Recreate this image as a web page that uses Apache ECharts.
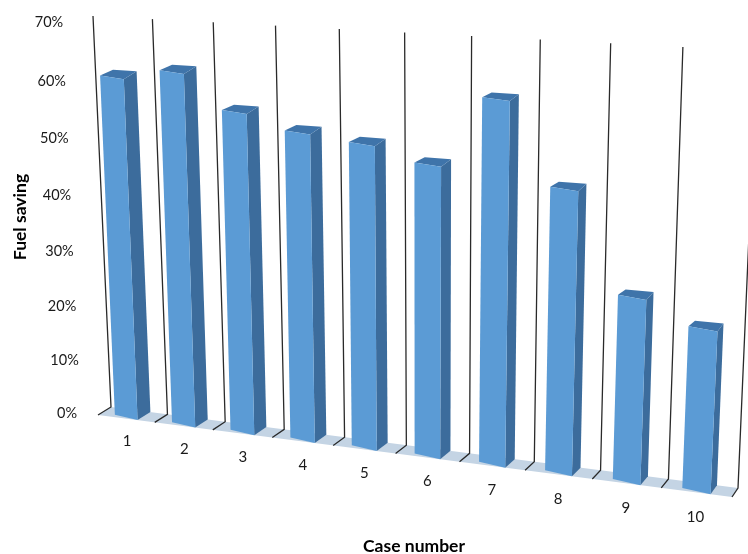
<!DOCTYPE html>
<html>
<head>
<meta charset="utf-8">
<title>Fuel saving</title>
<style>
  html, body { margin: 0; background: #fff; }
  #chart { width: 748px; height: 554px; }
</style>
<script src="https://cdn.jsdelivr.net/npm/echarts@6/dist/echarts.min.js"></script>
</head>
<body>
<div id="chart"></div>
<script>
// data
const caseNumbers = ['1', '2', '3', '4', '5', '6', '7', '8', '9', '10'];
const fuelSaving = [0.61, 0.625, 0.564, 0.537, 0.525, 0.499, 0.612, 0.476, 0.31, 0.27];
const valueTicks = [0, 0.1, 0.2, 0.3, 0.4, 0.5, 0.6, 0.7];

const VALUE_MAX = 0.7;
const FONT = 'Lato, "Open Sans", sans-serif';

// corners of the two tilted planes: bottom-left, bottom-right, top-right, top-left
const frontPlane = makeProjection([[98, 415], [732, 497], [752, 57], [80, 24]]);
const backPlane = makeProjection([[111, 407], [738, 488], [757, 51], [93, 16]]);

// unit square -> quad
function makeProjection(q) {
    const dx1 = q[1][0] - q[2][0], dx2 = q[3][0] - q[2][0], sx = q[0][0] - q[1][0] + q[2][0] - q[3][0];
    const dy1 = q[1][1] - q[2][1], dy2 = q[3][1] - q[2][1], sy = q[0][1] - q[1][1] + q[2][1] - q[3][1];
    const den = dx1 * dy2 - dx2 * dy1;
    const g = (sx * dy2 - dx2 * sy) / den;
    const h = (dx1 * sy - sx * dy1) / den;
    const a = q[1][0] - q[0][0] + g * q[1][0], b = q[3][0] - q[0][0] + h * q[3][0];
    const d = q[1][1] - q[0][1] + g * q[1][1], e = q[3][1] - q[0][1] + h * q[3][1];
    return function (s, t) {
        const w = g * s + h * t + 1;
        return [(a * s + b * t + q[0][0]) / w, (d * s + e * t + q[0][1]) / w];
    };
}

// axis position -> screen, through the hidden grid
function place(plane, params, api, idx, offset, value) {
    const rect = params.coordSys;
    const band = api.size([1, 0])[0];
    const p = api.coord([idx, value]);
    const s = (p[0] + offset * band - rect.x) / rect.width;
    const t = (rect.y + rect.height - p[1]) / rect.height;
    return plane(s, t);
}

function poly(points, fill) {
    return { type: 'polygon', shape: { points: points }, style: { fill: fill } };
}

function renderFloor(params, api) {
    const last = caseNumbers.length - 1;
    return poly([
        place(frontPlane, params, api, 0, -0.5, 0),
        place(frontPlane, params, api, last, 0.5, 0),
        place(backPlane, params, api, last, 0.5, 0),
        place(backPlane, params, api, 0, -0.5, 0)
    ], '#c4d4e4');
}

// one wall line per category edge, with its short foot across the floor
function renderWallLine(params, api) {
    const offset = params.dataIndex - 0.5;
    return {
        type: 'polyline',
        shape: {
            points: [
                place(backPlane, params, api, 0, offset, VALUE_MAX),
                place(backPlane, params, api, 0, offset, 0),
                place(frontPlane, params, api, 0, offset, 0)
            ]
        },
        style: { fill: null, stroke: '#2a2a2a', lineWidth: 1.3 }
    };
}

function renderBar(params, api) {
    const idx = api.value(0);
    const val = api.value(1);
    const half = 0.2;
    const lift = 0.3; // the front left corner sits a little higher than the front plane
    const br0 = place(backPlane, params, api, idx, half, 0);
    const br1 = place(backPlane, params, api, idx, half, val);
    const bl0 = place(backPlane, params, api, idx, -half, 0);
    const bl1 = place(backPlane, params, api, idx, -half, val);
    const fl0 = place(frontPlane, params, api, idx, -half, 0);
    const fl1 = place(frontPlane, params, api, idx, -half, val);
    fl0[1] += (bl0[1] - fl0[1]) * lift;
    fl1[1] += (bl1[1] - fl1[1]) * lift;
    const fr0 = place(frontPlane, params, api, idx, half, 0);
    const fr1 = place(frontPlane, params, api, idx, half, val);
    return {
        type: 'group',
        children: [
            poly([fr0, br0, br1, fr1], '#3c6c9c'),
            poly([fl1, fr1, br1, bl1], '#3f74aa'),
            poly([fl0, fr0, fr1, fl1], '#5b9bd5')
        ]
    };
}

function renderValueLabel(params, api) {
    const p = place(frontPlane, params, api, 0, -0.5, api.value(1));
    return {
        type: 'text',
        style: {
            x: p[0] - 31, y: p[1] - 1.5,
            text: Math.round(api.value(1) * 100) + '%',
            font: '14.5px ' + FONT, fill: '#1a1a1a', align: 'center', verticalAlign: 'middle'
        }
    };
}

function renderCaseLabel(params, api) {
    const p = place(frontPlane, params, api, api.value(0), 0, -0.043);
    return {
        type: 'text',
        style: {
            x: p[0], y: p[1],
            text: caseNumbers[api.value(0)],
            font: '15px ' + FONT, fill: '#1a1a1a', align: 'center', verticalAlign: 'middle'
        }
    };
}

const chart = echarts.init(document.getElementById('chart'));
chart.setOption({
    animation: false,
    backgroundColor: '#fff',
    grid: { left: 0, right: 0, top: 0, bottom: 0 },
    xAxis: { type: 'category', data: caseNumbers, show: false },
    yAxis: { type: 'value', min: 0, max: VALUE_MAX, interval: 0.1, show: false },
    graphic: [
        {
            type: 'text', x: 414, y: 546,
            style: { text: 'Case number', font: 'bold 17.5px ' + FONT, fill: '#000', align: 'center', verticalAlign: 'middle' }
        },
        {
            type: 'text', x: 20, y: 217, rotation: Math.PI / 2,
            style: { text: 'Fuel saving', font: 'bold 17.5px ' + FONT, fill: '#000', align: 'center', verticalAlign: 'middle' }
        }
    ],
    series: [
        { type: 'custom', name: 'floor', renderItem: renderFloor, data: [[0, 0]], silent: true },
        {
            type: 'custom', name: 'wall', renderItem: renderWallLine, silent: true,
            data: caseNumbers.map(() => [0, 0]).concat([[0, 0]])
        },
        {
            type: 'custom', name: 'Fuel saving', renderItem: renderBar,
            encode: { x: 0, y: 1 },
            data: fuelSaving.map((v, i) => [i, v])
        },
        { type: 'custom', name: 'values', renderItem: renderValueLabel, silent: true, data: valueTicks.map(v => [0, v]) },
        { type: 'custom', name: 'cases', renderItem: renderCaseLabel, silent: true, data: caseNumbers.map((c, i) => [i, 0]) }
    ]
});
</script>
</body>
</html>
